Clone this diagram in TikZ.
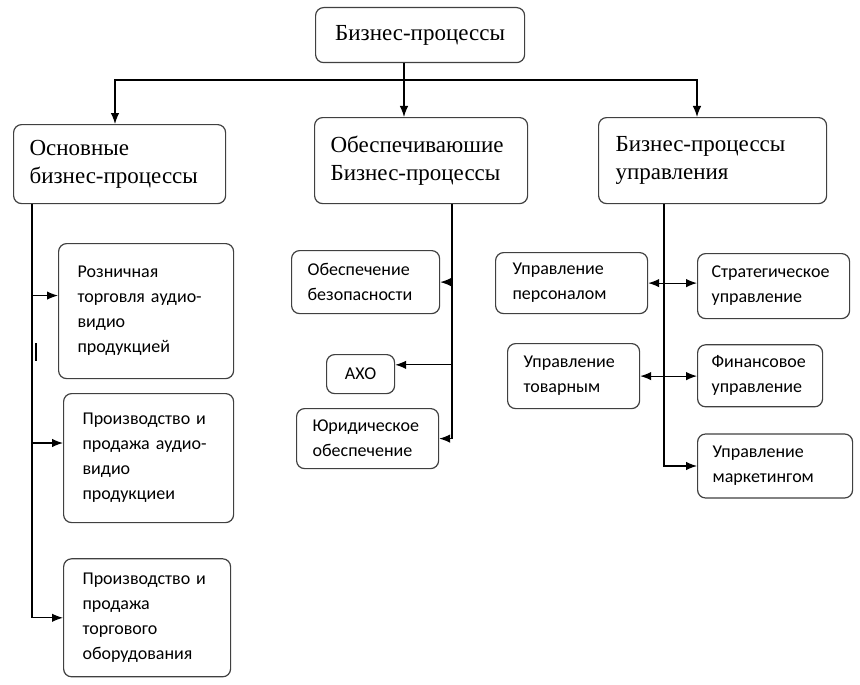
\documentclass[tikz,border=0pt]{standalone}
\usepackage{fontspec}
\setmainfont{Liberation Serif}
\newfontfamily\bpsans{Carlito}
\usetikzlibrary{arrows.meta,positioning}
\tikzset{
    bpbox/.style={draw=black!75, line width=1.2pt, rounded corners=8pt,
        align=left, anchor=north west, inner ysep=2pt, fill=white},
    bphead/.style={bpbox, font=\fontsize{23}{28}\selectfont, inner xsep=16pt},
    bpitem/.style={bpbox, font=\bpsans\fontsize{18}{25}\selectfont, inner xsep=16pt},
    bpline/.style={line width=1.2pt},
    bparrow/.style={-{Latex[length=11pt,width=8.5pt]}, line width=1.2pt},
    bpboth/.style={{Latex[length=11pt,width=8.5pt]}-{Latex[length=11pt,width=8.5pt]}, line width=1.2pt}
}

\begin{document}
\begin{tikzpicture}[x=1pt, y=-1pt]
    \useasboundingbox (0,0) rectangle (860,685);

    % top level
    \node[bphead, align=center, text width=177pt, minimum height=55pt] (root)
        at (315,7) {Бизнес-процессы};

    \node[bphead, text width=180pt, minimum height=79pt] (osn)
        at (13,124) {Основные\\бизнес-процессы};
    \node[bphead, text width=181pt, minimum height=86pt] (obesp)
        at (314,117) {Обеспечиваюшие\\Бизнес-процессы};
    \node[bphead, inner xsep=17pt, text width=194pt, minimum height=86pt] (upr)
        at (598,117) {Бизнес-процессы\\управления};

    % main processes
    \node[bpitem, inner xsep=19pt, text width=137pt, minimum height=135pt] (rozn)
        at (58,243) {Розничная\\торговля аудио-\\видио\\продукцией};
    \node[bpitem, inner xsep=19pt, text width=132pt, minimum height=129pt] (proizv)
        at (63,393) {Производство и\\продажа аудио-\\видио\\продукциеи};
    \node[bpitem, inner xsep=19pt, text width=129pt, minimum height=118pt,
        below=35pt of proizv.south west, anchor=north west] (torg)
        {Производство и\\продажа\\торгового\\оборудования};

    % support processes
    \node[bpitem, text width=116pt, minimum height=63pt] (bez)
        at (291,250) {Обеспечение\\безопасности};
    \node[bpitem, align=center, text width=36pt, minimum height=39pt] (axo)
        at (326,354) {АХО};
    \node[bpitem, text width=110pt, minimum height=60pt] (jur)
        at (296,408) {Юридическое\\обеспечение};

    % management processes
    \node[bpitem, inner xsep=17pt, text width=118pt, minimum height=61pt] (pers)
        at (495,252) {Управление\\персоналом};
    \node[bpitem, text width=100pt, minimum height=65pt] (tov)
        at (507,343) {Управление\\товарным};
    \node[bpitem, inner xsep=14pt, text width=124pt, minimum height=65pt] (strat)
        at (697,253) {Стратегическое\\управление};
    \node[bpitem, inner xsep=14pt, text width=97pt, minimum height=62pt,
        below=25pt of strat.south west, anchor=north west] (fin)
        {Финансовое\\управление};
    \node[bpitem, inner xsep=15pt, text width=125pt, minimum height=64pt,
        below=26pt of fin.south west, anchor=north west] (mark)
        {Управление\\маркетингом};

    % connectors
    \coordinate (jn) at (404,80);
    \coordinate (bl) at (115,80);
    \coordinate (br) at (697,80);
    \draw[bpline] (root.south -| jn) -- (jn);
    \draw[bparrow] (jn) -- (jn |- obesp.north);
    \draw[bparrow] (jn) -| (bl |- osn.north);
    \draw[bparrow] (jn) -| (br |- upr.north);

    \coordinate (lt) at (osn.south -| 32,0);
    \draw[bparrow] (lt) |- (torg.west);
    \draw[bparrow] (lt |- rozn.170) -- (rozn.170);
    \draw[bparrow] (lt |- proizv.170) -- (proizv.170);
    \draw[line width=2.5pt] (36,343) -- (36,361);

    \coordinate (mt) at (obesp.south -| 452,0);
    \draw[bparrow] (mt) |- (jur.east);
    \draw[bparrow] (mt |- bez.east) -- (bez.east);
    \draw[bparrow] (mt |- axo.15) -- (axo.15);

    \coordinate (rt) at (upr.south -| 664,0);
    \draw[bparrow] (rt) |- (mark.west);
    \draw[bpboth] (pers.east) -- (pers.east -| strat.west);
    \draw[bpboth] (tov.east) -- (tov.east -| fin.west);
\end{tikzpicture}
\end{document}
